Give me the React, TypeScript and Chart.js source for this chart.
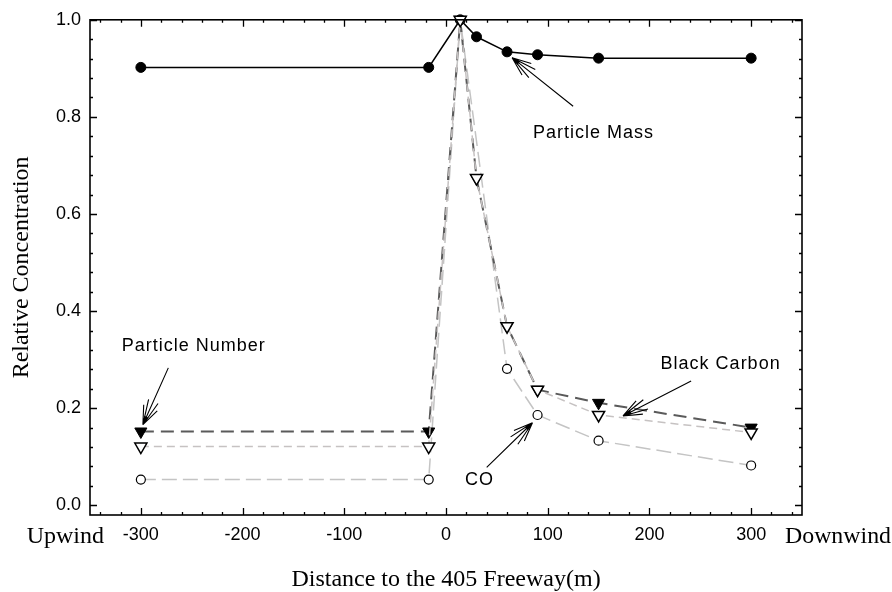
import React, { useEffect, useRef } from "react";
import { Chart, registerables } from "chart.js";

Chart.register(...registerables);

// Distances (m) from the 405 freeway
const distance = [-300, -17, 14, 30, 60, 90, 150, 300];
const particleMass = [0.902, 0.902, 1.0, 0.965, 0.934, 0.928, 0.921, 0.921];
const particleNumber = [0.152, 0.152, 1.0, 0.674, 0.369, 0.238, 0.211, 0.16];
const blackCarbon = [0.121, 0.121, 1.0, 0.674, 0.369, 0.238, 0.186, 0.15];
const coDistance = [-300, -17, 14, 60, 90, 150, 300];
const carbonMonoxide = [0.053, 0.053, 1.0, 0.281, 0.186, 0.133, 0.082];

const xTickValues = [-300, -200, -100, 0, 100, 200, 300];
const yTickValues = [0, 0.2, 0.4, 0.6, 0.8, 1.0];
const xEndLabels = ["Upwind", "Downwind"];
const xTitle = "Distance to the 405 Freeway(m)";
const yTitle = "Relative Concentration";

// annotation labels with arrows (data coordinates)
const annoText = ["Particle Mass", "Particle Number", "Black Carbon", "CO"];
const annoTextX = [145, -248, 270, 33];
const annoTextY = [0.766, 0.328, 0.291, 0.051];
const arrowTailX = [125, -273, 241, 40];
const arrowTailY = [0.822, 0.283, 0.256, 0.078];
const arrowTipX = [65, -298, 174, 85];
const arrowTipY = [0.922, 0.166, 0.184, 0.17];

const SANS = "'Liberation Sans', Arial, sans-serif";
const SERIF = "'Liberation Serif', 'Times New Roman', serif";

const pts = (xs: number[], ys: number[]) => xs.map((x, i) => ({ x, y: ys[i] }));

const decorPlugin = {
  id: "decor",
  afterDraw(chart: any) {
    const { ctx, chartArea: a, scales } = chart;
    const xs = scales.x;
    const ys = scales.y;
    ctx.save();
    // frame
    ctx.strokeStyle = "#000";
    ctx.lineWidth = 1.6;
    ctx.strokeRect(a.left, a.top, a.right - a.left, a.bottom - a.top);
    // inward ticks
    ctx.lineWidth = 1.3;
    ctx.beginPath();
    for (let v = -340; v <= 340; v += 20) {
      const px = Math.round(xs.getPixelForValue(v)) + 0.5;
      const len = v % 100 === 0 ? 7 : 3;
      ctx.moveTo(px, a.bottom);
      ctx.lineTo(px, a.bottom - len);
      ctx.moveTo(px, a.top);
      ctx.lineTo(px, a.top + len);
    }
    for (let i = 0; i <= 25; i++) {
      const py = Math.round(ys.getPixelForValue(i * 0.04)) + 0.5;
      const len = i % 5 === 0 ? 7 : 3;
      ctx.moveTo(a.left, py);
      ctx.lineTo(a.left + len, py);
      ctx.moveTo(a.right, py);
      ctx.lineTo(a.right - len, py);
    }
    ctx.stroke();

    // serif texts
    ctx.fillStyle = "#000";
    ctx.font = `24px ${SERIF}`;
    ctx.textBaseline = "alphabetic";
    ctx.textAlign = "right";
    ctx.fillText(xEndLabels[0], a.left + 14, a.bottom + 28);
    ctx.textAlign = "left";
    ctx.fillText(xEndLabels[1], a.right - 17, a.bottom + 28, 106);
    ctx.textAlign = "center";
    ctx.fillText(xTitle, (a.left + a.right) / 2, a.bottom + 71, 312);
    ctx.save();
    ctx.translate(22, (a.top + a.bottom) / 2);
    ctx.rotate(-Math.PI / 2);
    ctx.textBaseline = "middle";
    ctx.fillText(yTitle, 0, 0, 246);
    ctx.restore();

    // annotations
    ctx.font = `18px ${SANS}`;
    try {
      (ctx as any).letterSpacing = "1px";
    } catch (e) {}
    ctx.textAlign = "center";
    ctx.textBaseline = "middle";
    annoText.forEach((t, i) => {
      ctx.fillText(t, xs.getPixelForValue(annoTextX[i]), ys.getPixelForValue(annoTextY[i]));
    });
    try {
      (ctx as any).letterSpacing = "0px";
    } catch (e) {}
    ctx.lineWidth = 1.1;
    ctx.strokeStyle = "#000";
    annoText.forEach((_, i) => {
      const tx = xs.getPixelForValue(arrowTailX[i]);
      const ty = ys.getPixelForValue(arrowTailY[i]);
      const hx = xs.getPixelForValue(arrowTipX[i]);
      const hy = ys.getPixelForValue(arrowTipY[i]);
      const ang = Math.atan2(ty - hy, tx - hx);
      ctx.beginPath();
      ctx.moveTo(tx, ty);
      ctx.lineTo(hx, hy);
      [-0.38, -0.2, 0.2, 0.38].forEach((d, k) => {
        const L = k === 0 || k === 3 ? 20 : 26;
        ctx.moveTo(hx, hy);
        ctx.lineTo(hx + Math.cos(ang + d) * L, hy + Math.sin(ang + d) * L);
      });
      ctx.stroke();
      ctx.beginPath();
      ctx.moveTo(hx, hy);
      ctx.lineTo(hx + Math.cos(ang + 0.25) * 9, hy + Math.sin(ang + 0.25) * 9);
      ctx.lineTo(hx + Math.cos(ang - 0.25) * 9, hy + Math.sin(ang - 0.25) * 9);
      ctx.closePath();
      ctx.fill();
    });
    ctx.restore();
  },
};

export default function App() {
  const ref = useRef<HTMLCanvasElement | null>(null);
  useEffect(() => {
    if (!ref.current) return;
    const chart = new Chart(ref.current, {
      type: "line",
      data: {
        datasets: [
          {
            label: "Black Carbon",
            data: pts(distance, blackCarbon),
            borderColor: "#c6c2c2",
            borderWidth: 1.5,
            borderDash: [8, 5],
            pointStyle: "triangle",
            rotation: 180,
            pointRadius: 7,
            pointBackgroundColor: "#fff",
            pointBorderColor: "#000",
            pointBorderWidth: 1.5,
            tension: 0,
            clip: false,
          } as any,
          {
            label: "Particle Number",
            data: pts(distance, particleNumber),
            borderColor: "#5a5a5a",
            borderWidth: 2,
            borderDash: [13, 7],
            pointStyle: "triangle",
            rotation: 180,
            pointRadius: 7,
            pointBackgroundColor: "#000",
            pointBorderColor: "#000",
            pointBorderWidth: 1,
            tension: 0,
            clip: false,
          } as any,
          {
            label: "CO",
            data: pts(coDistance, carbonMonoxide),
            borderColor: "#c4c4c4",
            borderWidth: 1.5,
            borderDash: [15, 6],
            pointStyle: "circle",
            pointRadius: 4.5,
            pointBackgroundColor: "#fff",
            pointBorderColor: "#000",
            pointBorderWidth: 1.2,
            tension: 0,
            clip: false,
          } as any,
          {
            label: "Particle Mass",
            data: pts(distance, particleMass),
            borderColor: "#000",
            borderWidth: 1.5,
            pointStyle: "circle",
            pointRadius: 5,
            pointBackgroundColor: "#000",
            pointBorderColor: "#000",
            pointBorderWidth: 1,
            tension: 0,
            clip: false,
          } as any,
        ],
      },
      options: {
        animation: false,
        responsive: false,
        maintainAspectRatio: false,
        layout: { padding: { top: 17, right: 90, left: 0, bottom: 0 } },
        plugins: { legend: { display: false }, tooltip: { enabled: false } },
        scales: {
          x: {
            type: "linear",
            min: -350,
            max: 350,
            grid: { display: false, drawTicks: false },
            border: { display: false },
            afterBuildTicks: (s: any) => {
              s.ticks = xTickValues.map((v) => ({ value: v }));
            },
            afterFit: (s: any) => {
              s.height = 77;
            },
            ticks: {
              color: "#000",
              font: { family: SANS, size: 18 },
              padding: 9,
              maxRotation: 0,
              autoSkip: false,
              callback: (v: any) => String(v),
            },
          },
          y: {
            type: "linear",
            min: -0.02,
            max: 1.0,
            grid: { display: false, drawTicks: false },
            border: { display: false },
            afterBuildTicks: (s: any) => {
              s.ticks = yTickValues.map((v) => ({ value: v }));
            },
            afterFit: (s: any) => {
              s.width = 90;
            },
            ticks: {
              color: "#000",
              font: { family: SANS, size: 18 },
              padding: 9,
              autoSkip: false,
              callback: (v: any) => Number(v).toFixed(1),
            },
          },
        },
      },
      plugins: [decorPlugin],
    });
    return () => chart.destroy();
  }, []);
  return (
    <div style={{ position: "absolute", left: 0, top: 0, width: 892, height: 592, background: "#fff" }}>
      <canvas ref={ref} width={892} height={592} />
    </div>
  );
}
